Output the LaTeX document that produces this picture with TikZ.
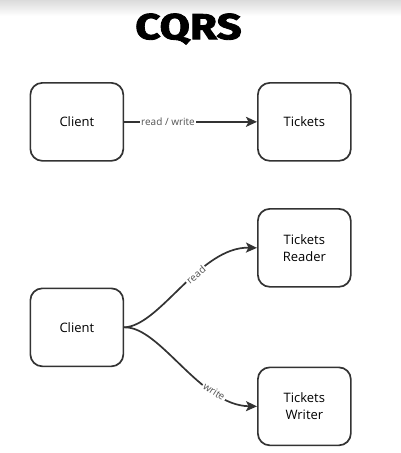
\documentclass[tikz,border=0pt]{standalone}
\usepackage{fontspec}
\setmainfont{Open Sans}
\newfontfamily\titlefont{Fira Sans}[BoldFeatures={FakeBold=2.5}, FakeStretch=1.22]
\usetikzlibrary{arrows.meta}
\definecolor{ink}{HTML}{333333}
\tikzset{
  box/.style={draw=ink, line width=1.7pt, rounded corners=12pt, minimum width=93pt, minimum height=78pt, align=center, font=\fontsize{13}{17}\selectfont, inner sep=0pt, anchor=north west},
  conn/.style={draw=ink, line width=1.7pt, -{Stealth[length=11pt,width=10pt,inset=2.5pt]}},
  lbl/.style={font=\fontsize{10}{11}\selectfont, text=ink!85, fill=white, inner sep=1.5pt}
}
\begin{document}
\begin{tikzpicture}[x=1pt,y=-1pt]
\useasboundingbox (0,0) rectangle (401,453);
\shade[top color=black!14, bottom color=white] (0,0) rectangle (401,16);
\node[font=\titlefont\fontsize{36}{40}\selectfont\bfseries] (title) at (188.5,29) {CQRS};
\node[box] (c1) at (29.5,82) {Client};
\node[box] (t1) at (257,82) {Tickets};
\draw[conn] (c1.east) -- node[lbl, pos=0.33] {read / write} (t1.west);
\node[box] (c2) at (29.5,287.5) {Client};
\node[box] (tr) at (257,208) {Tickets\\Reader};
\node[box] (tw) at (257,366.5) {Tickets\\Writer};
\draw[conn] (c2.east) .. controls (160,326) and (200,246.5) .. node[lbl, sloped, pos=0.6] {read} (tr.west);
\draw[conn] (c2.east) .. controls (160,326) and (200,405.5) .. node[lbl, sloped, pos=0.73] {write} (tw.west);
\end{tikzpicture}
\end{document}
